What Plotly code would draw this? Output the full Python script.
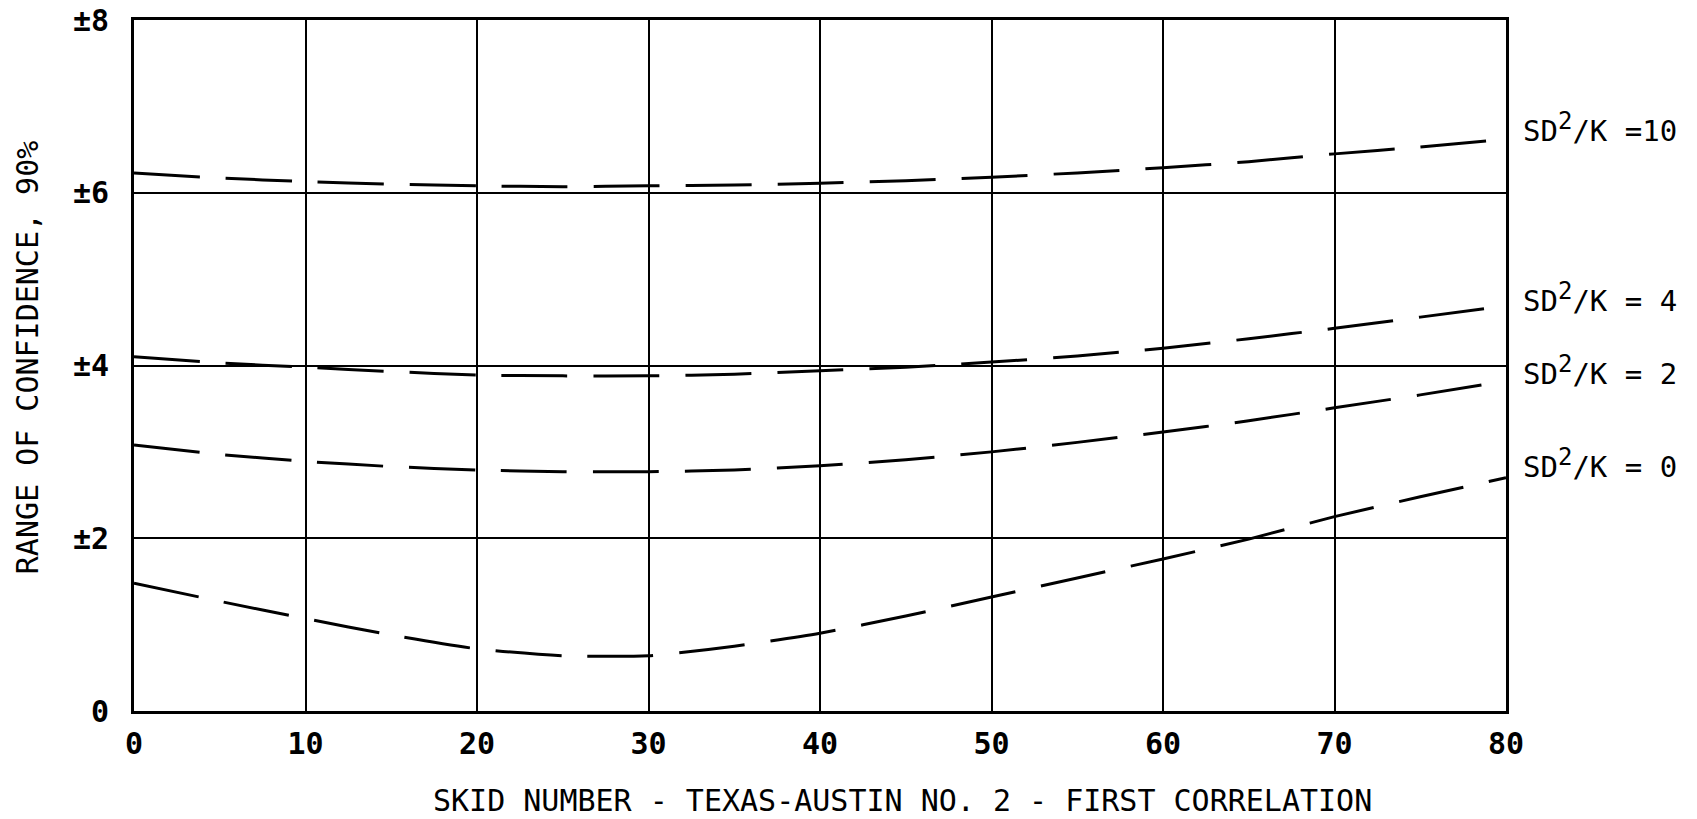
import plotly.graph_objects as go

# Skid number (x) and the 90% confidence range for each SD^2/K level
skid_number = [0, 5, 10, 15, 20, 25, 30, 35, 40, 45, 50, 55, 60, 65, 70, 75, 80]
range_sdk_10 = [6.23, 6.17, 6.13, 6.10, 6.08, 6.07, 6.08, 6.09, 6.11, 6.14, 6.18, 6.23, 6.29, 6.36, 6.45, 6.53, 6.62]
range_sdk_4 = [4.10, 4.03, 3.98, 3.93, 3.89, 3.88, 3.88, 3.90, 3.94, 3.98, 4.04, 4.11, 4.20, 4.31, 4.43, 4.56, 4.69]
range_sdk_2 = [3.08, 2.97, 2.89, 2.83, 2.79, 2.77, 2.77, 2.79, 2.84, 2.91, 3.00, 3.11, 3.23, 3.36, 3.51, 3.66, 3.82]
range_sdk_0 = [1.48, 1.27, 1.07, 0.88, 0.72, 0.64, 0.64, 0.75, 0.90, 1.10, 1.32, 1.54, 1.76, 1.99, 2.25, 2.48, 2.70]

sdk_levels = ["10", " 4", " 2", " 0"]

x_tick_vals = [0, 10, 20, 30, 40, 50, 60, 70, 80]
x_tick_text = ["0", "10", "20", "30", "40", "50", "60", "70", "80"]
y_tick_vals = [0, 2, 4, 6, 8]
y_tick_text = ["0", "±2", "±4", "±6", "±8"]

FONT = "DejaVu Sans Mono"

fig = go.Figure()
for ys in (range_sdk_10, range_sdk_4, range_sdk_2, range_sdk_0):
    fig.add_trace(go.Scatter(
        x=skid_number, y=ys, mode="lines",
        line=dict(color="black", width=3, dash="66px,26px", shape="spline", smoothing=0.6),
        showlegend=False, hoverinfo="skip",
    ))

# curve labels sit just right of the frame, level with each curve's end
label_y = [6.75, 4.79, 3.94, 2.87]
for level, yy in zip(sdk_levels, label_y):
    fig.add_annotation(
        text=f"SD<sup><span style='font-size:24px'>2</span></sup>/K ={level}",
        xref="paper", yref="y", x=1.011, y=yy,
        xanchor="left", yanchor="middle", showarrow=False,
        font=dict(family=FONT, size=29, color="black"),
    )

fig.add_annotation(
    text="SKID NUMBER - TEXAS-AUSTIN NO. 2 - FIRST CORRELATION",
    xref="paper", yref="paper", x=0.56, y=-0.129,
    xanchor="center", yanchor="middle", showarrow=False,
    font=dict(family=FONT, size=30, color="black"),
)
fig.add_annotation(
    text="RANGE OF CONFIDENCE, 90%",
    xref="paper", yref="paper", x=-0.078, y=0.512, textangle=-90,
    xanchor="center", yanchor="middle", showarrow=False,
    font=dict(family=FONT, size=30, color="black"),
)

axis_common = dict(
    showline=True, linecolor="black", linewidth=3, mirror=True,
    showgrid=True, gridcolor="black", gridwidth=2,
    zeroline=False, ticks="", automargin=False,
    tickfont=dict(family=FONT, size=30, color="black", weight="bold"),
)

fig.update_layout(
    width=1697, height=819,
    margin=dict(l=134, r=191, t=20, b=108, autoexpand=False),
    paper_bgcolor="white", plot_bgcolor="white",
    xaxis=dict(range=[0, 80], tickvals=x_tick_vals, ticktext=x_tick_text,
               ticklabelstandoff=4, **axis_common),
    yaxis=dict(range=[0, 8], tickvals=y_tick_vals, ticktext=y_tick_text,
               ticklabelstandoff=16, **axis_common),
)

fig.write_html("out.html")
